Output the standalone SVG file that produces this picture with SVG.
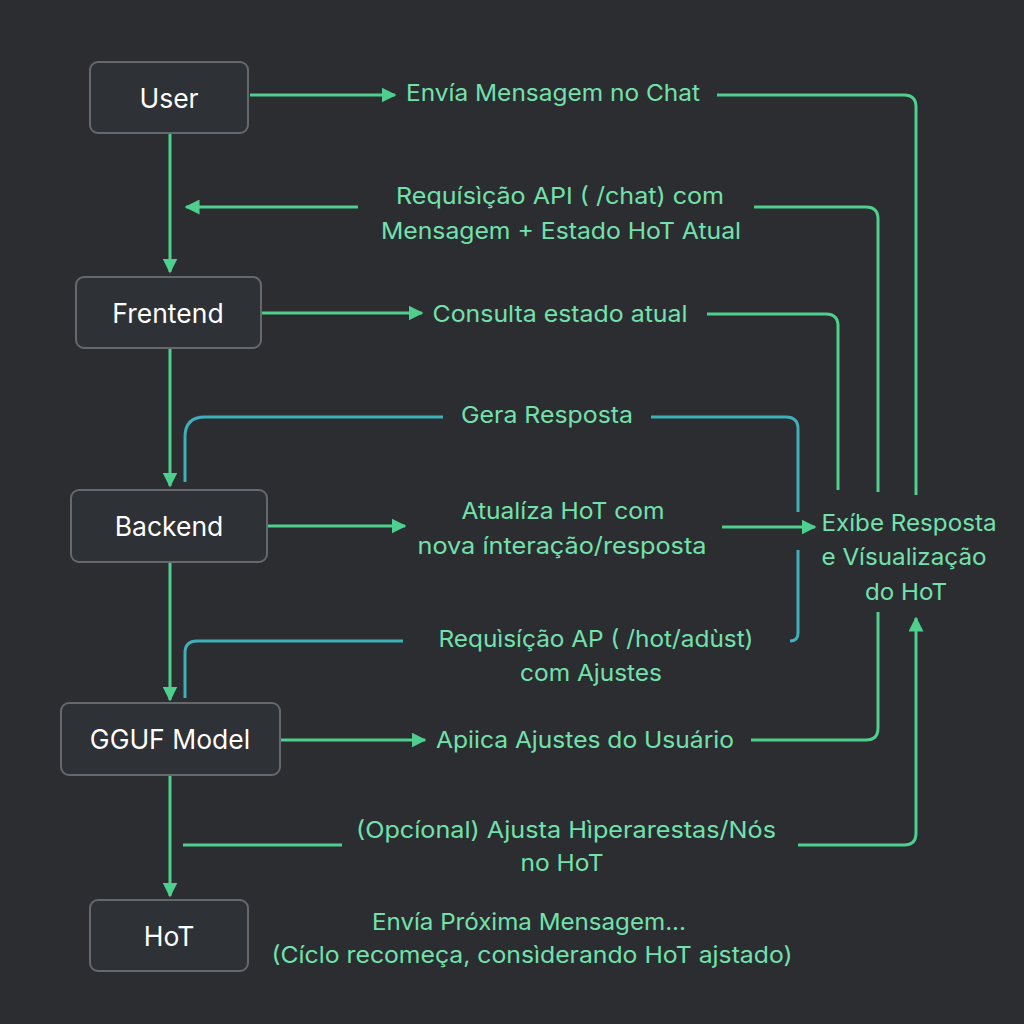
<svg xmlns="http://www.w3.org/2000/svg" width="1024" height="1024" viewBox="0 0 1024 1024">
<style>
.node rect{fill:#2e3135;stroke:#65686c;stroke-width:2}
.node text{fill:#ffffff;font-family:Inter,"Liberation Sans",sans-serif;font-size:26.5px;text-anchor:middle;dominant-baseline:central}
.lbl{fill:#72e2ad;font-family:Inter,"Liberation Sans",sans-serif;font-size:23px;text-anchor:middle;dominant-baseline:central}
.g{fill:none;stroke:#4fcf8e;stroke-width:3}
.t{fill:none;stroke:#3fafba;stroke-width:3}
</style>
<defs>
<marker id="ah" viewBox="0 0 10 10" refX="9" refY="5" markerWidth="5" markerHeight="5" orient="auto" markerUnits="strokeWidth">
<path d="M0,0 L10,5 L0,10 z" fill="#4fcf8e"/>
</marker>
</defs>
<rect width="1024" height="1024" fill="#2b2d31"/>
<g id="connectors">
<line class="g" x1="170" y1="134" x2="170" y2="272" marker-end="url(#ah)"/>
<line class="g" x1="170" y1="349" x2="170" y2="486" marker-end="url(#ah)"/>
<line class="g" x1="170" y1="563" x2="170" y2="700" marker-end="url(#ah)"/>
<line class="g" x1="170" y1="776" x2="170" y2="896" marker-end="url(#ah)"/>
<line class="g" x1="250" y1="95" x2="395" y2="95" marker-end="url(#ah)"/>
<path class="g" d="M717,95 H904 Q916,95 916,107 V495"/>
<line class="g" x1="358" y1="207" x2="186" y2="207" marker-end="url(#ah)"/>
<path class="g" d="M754,207 H866 Q878,207 878,219 V492"/>
<line class="g" x1="262" y1="313" x2="422" y2="313" marker-end="url(#ah)"/>
<path class="g" d="M707,314 H826 Q838,314 838,326 V490"/>
<path class="t" d="M185,482 V437 Q185,417 205,417 H443"/>
<path class="t" d="M651,417 H786 Q798,417 798,429 V512"/>
<line class="g" x1="268" y1="526" x2="405" y2="526" marker-end="url(#ah)"/>
<line class="g" x1="722" y1="527" x2="815" y2="527" marker-end="url(#ah)"/>
<path class="t" d="M185,698 V653 Q185,641 197,641 H403"/>
<path class="t" d="M790,641 Q798,641 798,633 V550"/>
<line class="g" x1="281" y1="740" x2="425" y2="740" marker-end="url(#ah)"/>
<path class="g" d="M751,740 H866 Q878,740 878,728 V612"/>
<line class="g" x1="183" y1="845" x2="342" y2="845"/>
<path class="g" d="M798,845 H904 Q916,845 916,833 V618" marker-end="url(#ah)"/>
</g>
<g id="n-user" class="node"><rect x="90" y="62" width="158" height="71" rx="8"/><text x="169" y="98">User</text></g>
<g id="n-frontend" class="node"><rect x="76" y="277" width="185" height="71" rx="8"/><text x="168" y="313">Frentend</text></g>
<g id="n-backend" class="node"><rect x="71" y="490" width="196" height="72" rx="8"/><text x="169" y="526">Backend</text></g>
<g id="n-gguf" class="node"><rect x="61" y="703" width="219" height="72" rx="8"/><text x="170" y="739">GGUF Model</text></g>
<g id="n-hot" class="node"><rect x="90" y="900" width="158" height="71" rx="8"/><text x="169" y="936">HoT</text></g>
<g id="labels">
<text class="lbl" x="553" y="93" textLength="294" lengthAdjust="spacingAndGlyphs">Envía Mensagem no Chat</text>
<text class="lbl" x="560" y="196" textLength="328" lengthAdjust="spacingAndGlyphs">Requísìção API ( /chat) com</text>
<text class="lbl" x="561" y="231" textLength="360" lengthAdjust="spacingAndGlyphs">Mensagem + Estado HoT Atual</text>
<text class="lbl" x="560" y="314" textLength="255" lengthAdjust="spacingAndGlyphs">Consulta estado atual</text>
<text class="lbl" x="547" y="415" textLength="172" lengthAdjust="spacingAndGlyphs">Gera Resposta</text>
<text class="lbl" x="563" y="511" textLength="203" lengthAdjust="spacingAndGlyphs">Atualíza HoT com</text>
<text class="lbl" x="562" y="546" textLength="289" lengthAdjust="spacingAndGlyphs">nova ínteração/resposta</text>
<text class="lbl" x="909" y="523" textLength="175" lengthAdjust="spacingAndGlyphs">Exíbe Resposta</text>
<text class="lbl" x="904" y="557" textLength="165" lengthAdjust="spacingAndGlyphs">e Vísualização</text>
<text class="lbl" x="906" y="592" textLength="82" lengthAdjust="spacingAndGlyphs">do HoT</text>
<text class="lbl" x="596" y="639" textLength="315" lengthAdjust="spacingAndGlyphs">Requìsíção AP ( /hot/adùst)</text>
<text class="lbl" x="591" y="673" textLength="142" lengthAdjust="spacingAndGlyphs">com Ajustes</text>
<text class="lbl" x="585" y="740" textLength="298" lengthAdjust="spacingAndGlyphs">Apiica Ajustes do Usuário</text>
<text class="lbl" x="566" y="830" textLength="420" lengthAdjust="spacingAndGlyphs">(Opcíonal) Ajusta Hìperarestas/Nós</text>
<text class="lbl" x="562" y="863" textLength="83" lengthAdjust="spacingAndGlyphs">no HoT</text>
<text class="lbl" x="529" y="922" textLength="314" lengthAdjust="spacingAndGlyphs">Envía Próxima Mensagem...</text>
<text class="lbl" x="532" y="955" textLength="521" lengthAdjust="spacingAndGlyphs">(Cíclo recomeça, consìderando HoT ajstado)</text>
</g>
</svg>
